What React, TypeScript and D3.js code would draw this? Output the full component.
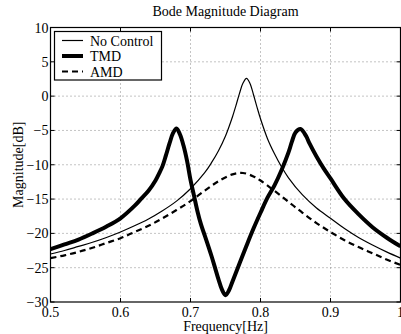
import React from 'react';
import * as d3 from 'd3';

const chartTitle = 'Bode Magnitude Diagram';
const xLabel = 'Frequency[Hz]';
const yLabel = 'Magnitude[dB]';

const xTicks = [0.5, 0.6, 0.7, 0.8, 0.9, 1];
const xTickLabels = ['0.5', '0.6', '0.7', '0.8', '0.9', '1'];
const yTicks = [-30, -25, -20, -15, -10, -5, 0, 5, 10];
const yTickLabels = ['−30', '−25', '−20', '−15', '−10', '−5', '0', '5', '10'];

const seriesNames = ['No Control', 'TMD', 'AMD'];

const freqNoControl = [0.5, 0.52, 0.54, 0.56, 0.58, 0.6, 0.62, 0.64, 0.66, 0.68, 0.7, 0.72, 0.73, 0.74, 0.75, 0.76, 0.765, 0.77, 0.775, 0.78, 0.785, 0.79, 0.795, 0.8, 0.81, 0.82, 0.83, 0.84, 0.86, 0.88, 0.9, 0.92, 0.94, 0.96, 0.98, 1.0];
const magNoControl = [-23.0, -22.5, -21.9, -21.3, -20.6, -19.8, -18.9, -17.9, -16.7, -15.3, -13.5, -11.2, -9.7, -7.95, -5.8, -3.0, -1.35, 0.4, 1.9, 2.6, 1.85, 0.2, -1.6, -3.3, -6.2, -8.4, -10.3, -11.9, -14.4, -16.3, -17.8, -19.3, -20.6, -21.7, -22.7, -23.6];

const freqTMD = [0.5, 0.52, 0.54, 0.56, 0.58, 0.6, 0.62, 0.63, 0.64, 0.65, 0.655, 0.66, 0.665, 0.67, 0.675, 0.68, 0.685, 0.69, 0.695, 0.7, 0.705, 0.71, 0.715, 0.72, 0.73, 0.735, 0.74, 0.745, 0.75, 0.755, 0.76, 0.77, 0.78, 0.79, 0.8, 0.81, 0.82, 0.83, 0.84, 0.845, 0.85, 0.857, 0.865, 0.87, 0.88, 0.89, 0.9, 0.92, 0.94, 0.96, 0.98, 1.0];
const magTMD = [-22.3, -21.6, -20.9, -20.0, -19.0, -17.8, -16.0, -14.9, -13.8, -12.3, -11.3, -10.2, -8.6, -6.9, -5.4, -4.7, -5.6, -7.2, -9.4, -12.2, -14.5, -16.8, -18.7, -20.2, -23.3, -25.0, -26.7, -28.2, -29.0, -28.3, -27.0, -24.4, -21.8, -19.3, -17.0, -14.8, -13.0, -10.8, -8.2, -6.6, -5.3, -4.8, -5.8, -6.9, -8.8, -10.5, -12.0, -15.0, -17.2, -19.1, -20.6, -21.9];

const freqAMD = [0.5, 0.52, 0.54, 0.56, 0.58, 0.6, 0.62, 0.64, 0.66, 0.68, 0.7, 0.72, 0.74, 0.76, 0.775, 0.79, 0.8, 0.82, 0.84, 0.86, 0.88, 0.9, 0.92, 0.94, 0.96, 0.98, 1.0];
const magAMD = [-23.6, -23.2, -22.7, -22.1, -21.4, -20.7, -19.8, -18.9, -17.8, -16.6, -15.3, -13.8, -12.4, -11.4, -11.2, -11.7, -12.3, -13.8, -15.4, -17.0, -18.5, -19.8, -21.0, -22.0, -22.9, -23.8, -24.6];

const FONT = '"Liberation Serif", "Times New Roman", Times, serif';

export default function App() {
  const W = 401;
  const H = 334;
  const left = 50.5;
  const right = 400.5;
  const top = 27.5;
  const bottom = 302;

  const x = d3.scaleLinear().domain([0.5, 1]).range([left, right]);
  const y = d3.scaleLinear().domain([-30, 10]).range([bottom, top]);

  const line = d3
    .line<[number, number]>()
    .x((d) => x(d[0]))
    .y((d) => y(d[1]))
    .curve(d3.curveCatmullRom.alpha(0.5));

  const zip = (f: number[], m: number[]) => f.map((v, i) => [v, m[i]] as [number, number]);

  const series = [
    { name: seriesNames[0], path: line(zip(freqNoControl, magNoControl)), width: 1.2, dash: undefined as string | undefined },
    { name: seriesNames[1], path: line(zip(freqTMD, magTMD)), width: 4, dash: undefined as string | undefined },
    { name: seriesNames[2], path: line(zip(freqAMD, magAMD)), width: 2.2, dash: '6,4' },
  ];

  const tickLen = 4;
  const txt = { fontFamily: FONT };

  return (
    <svg
      width={W}
      height={H}
      style={{ position: 'absolute', left: 0, top: 0, background: '#fff' }}
    >
      <rect x={0} y={0} width={W} height={H} fill="#fff" />
      <defs>
        <clipPath id="plotClip">
          <rect x={left} y={top} width={right - left} height={bottom - top} />
        </clipPath>
      </defs>

      {xTicks.slice(1, -1).map((t) => (
        <line key={'gx' + t} x1={x(t)} x2={x(t)} y1={top} y2={bottom} stroke="#888" strokeWidth={1} strokeDasharray="1,3" />
      ))}
      {yTicks.slice(1, -1).map((t) => (
        <line key={'gy' + t} x1={left} x2={right} y1={y(t)} y2={y(t)} stroke="#888" strokeWidth={1} strokeDasharray="1,3" />
      ))}

      <g clipPath="url(#plotClip)">
        {series.map((s) => (
          <path
            key={s.name}
            d={s.path || ''}
            fill="none"
            stroke="#000"
            strokeWidth={s.width}
            strokeDasharray={s.dash}
            strokeLinejoin="round"
          />
        ))}
      </g>

      <rect x={left} y={top} width={right - left} height={bottom - top} fill="none" stroke="#000" strokeWidth={1.2} />

      {xTicks.map((t) => (
        <g key={'tx' + t}>
          <line x1={x(t)} x2={x(t)} y1={bottom} y2={bottom - tickLen} stroke="#000" />
          <line x1={x(t)} x2={x(t)} y1={top} y2={top + tickLen} stroke="#000" />
        </g>
      ))}
      {yTicks.map((t) => (
        <g key={'ty' + t}>
          <line x1={left} x2={left + tickLen} y1={y(t)} y2={y(t)} stroke="#000" />
          <line x1={right} x2={right - tickLen} y1={y(t)} y2={y(t)} stroke="#000" />
        </g>
      ))}

      {xTicks.map((t, i) => (
        <text key={'lx' + t} x={x(t)} y={317} fontSize={14} textAnchor="middle" fill="#000" style={txt}>
          {xTickLabels[i]}
        </text>
      ))}
      {yTicks.map((t, i) => (
        <text key={'ly' + t} x={48.5} y={y(t) + 5} fontSize={14} textAnchor="end" fill="#000" style={txt}>
          {yTickLabels[i]}
        </text>
      ))}

      <text x={(left + right) / 2} y={16} fontSize={14} textAnchor="middle" fill="#000" style={txt}>
        {chartTitle}
      </text>
      <text x={(left + right) / 2} y={331} fontSize={14} textAnchor="middle" fill="#000" style={txt}>
        {xLabel}
      </text>
      <text
        transform={`translate(23,${(top + bottom) / 2}) rotate(-90)`}
        fontSize={14}
        textAnchor="middle"
        fill="#000"
        style={txt}
      >
        {yLabel}
      </text>

      <rect x={54.5} y={31.5} width={107} height={48.5} fill="#fff" stroke="#000" strokeWidth={1.2} />
      {series.map((s, i) => {
        const ly = 40.5 + i * 15.5;
        return (
          <g key={'leg' + s.name}>
            <line x1={62} x2={83} y1={ly} y2={ly} stroke="#000" strokeWidth={s.width} strokeDasharray={s.dash} />
            <text x={90} y={ly + 5} fontSize={14} fill="#000" style={txt}>
              {s.name}
            </text>
          </g>
        );
      })}
    </svg>
  );
}
